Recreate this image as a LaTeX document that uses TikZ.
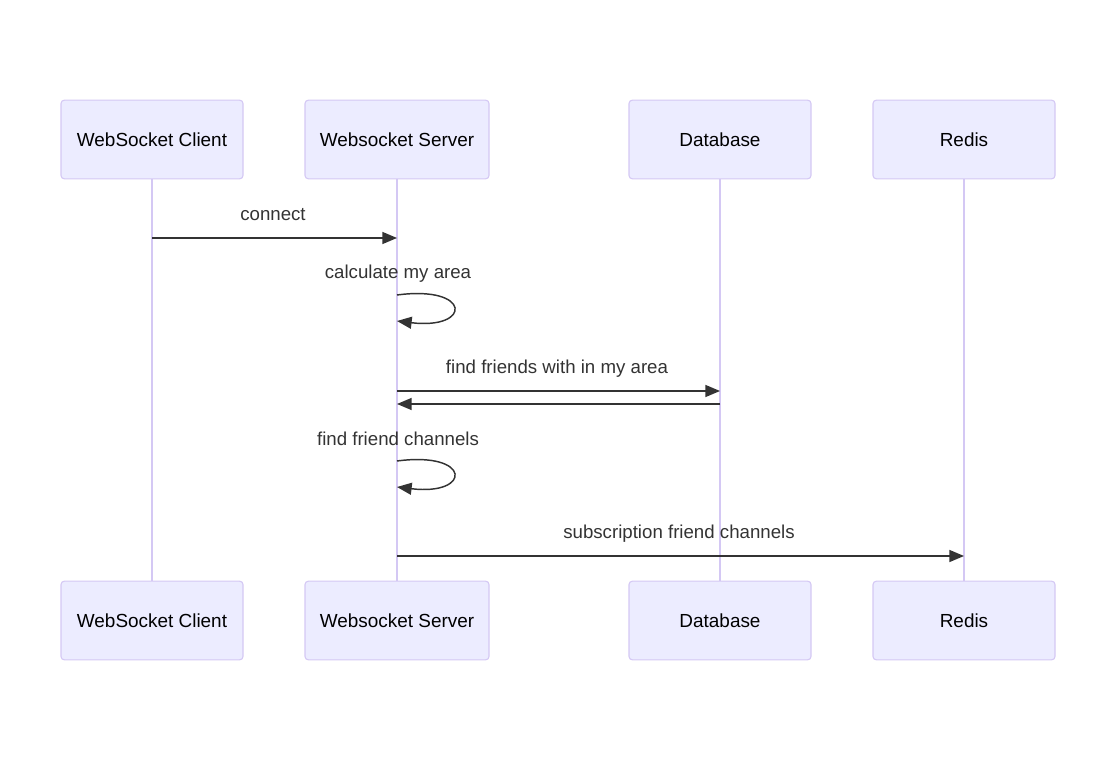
\documentclass[tikz,border=0pt]{standalone}
\usepackage{fontspec}
\setmainfont{Liberation Sans}
\usetikzlibrary{arrows.meta}
\definecolor{actfill}{HTML}{ECECFF}
\definecolor{actline}{HTML}{D4C8F4}
\definecolor{msg}{HTML}{333333}
\begin{document}
\begin{tikzpicture}[x=0.75pt,y=-0.75pt,
  actor/.style={draw=actline, fill=actfill, rounded corners=2.5pt, line width=0.8pt,
    minimum width=137pt, minimum height=59pt, inner sep=0pt, font=\fontsize{14.2}{17}\selectfont, text=black},
  life/.style={draw=actline, line width=1.5pt},
  msgline/.style={draw=msg, line width=1.1pt, -{Triangle[length=11pt,width=9pt]}},
  lbl/.style={font=\fontsize{14}{17}\selectfont, text=msg, inner sep=0pt}]
\useasboundingbox (0,0) rectangle (1116,762);
% lifelines
\foreach \n/\x in {c/152,s/397,d/720,r/964}{
  \coordinate (\n top) at (\x,179);
  \coordinate (\n bot) at (\x,581);
  \draw[life] (\n top) -- (\n bot);
}
% actors
\node[actor, minimum width=136.5pt] (c1) at (152,139.5) {WebSocket Client};
\node[actor, minimum width=138pt] (s1) at (397,139.5) {Websocket Server};
\node[actor, minimum width=136.5pt] (d1) at (720,139.5) {Database};
\node[actor, minimum width=136.5pt] (r1) at (964,139.5) {Redis};
\node[actor, minimum width=136.5pt] (c2) at (152,620.5) {WebSocket Client};
\node[actor, minimum width=138pt] (s2) at (397,620.5) {Websocket Server};
\node[actor, minimum width=136.5pt] (d2) at (720,620.5) {Database};
\node[actor, minimum width=136.5pt] (r2) at (964,620.5) {Redis};
% message points
\coordinate (m1a) at (152,238); \coordinate (m1b) at (397,238);
\coordinate (m2a) at (397,295); \coordinate (m2b) at (397,321);
\coordinate (m3a) at (397,391); \coordinate (m3b) at (720,391);
\coordinate (m4a) at (720,404); \coordinate (m4b) at (397,404);
\coordinate (m5a) at (397,461); \coordinate (m5b) at (397,487);
\coordinate (m6a) at (397,556); \coordinate (m6b) at (964,556);
% messages
\draw[msgline] (m1a) -- (m1b);
\node[lbl] (l1) at (273,215) {connect};
\draw[msgline] (m2a) .. controls (472,285) and (472,330) .. (m2b);
\node[lbl] (l2) at (398,274) {calculate my area};
\draw[msgline] (m3a) -- (m3b);
\node[lbl] (l3) at (557,369) {find friends with in my area};
\draw[msgline] (m4a) -- (m4b);
\draw[msgline] (m5a) .. controls (472,451) and (472,496) .. (m5b);
\node[lbl] (l5) at (398,439) {find friend channels};
\draw[msgline] (m6a) -- (m6b);
\node[lbl] (l6) at (679,534) {subscription friend channels};
\end{tikzpicture}
\end{document}
